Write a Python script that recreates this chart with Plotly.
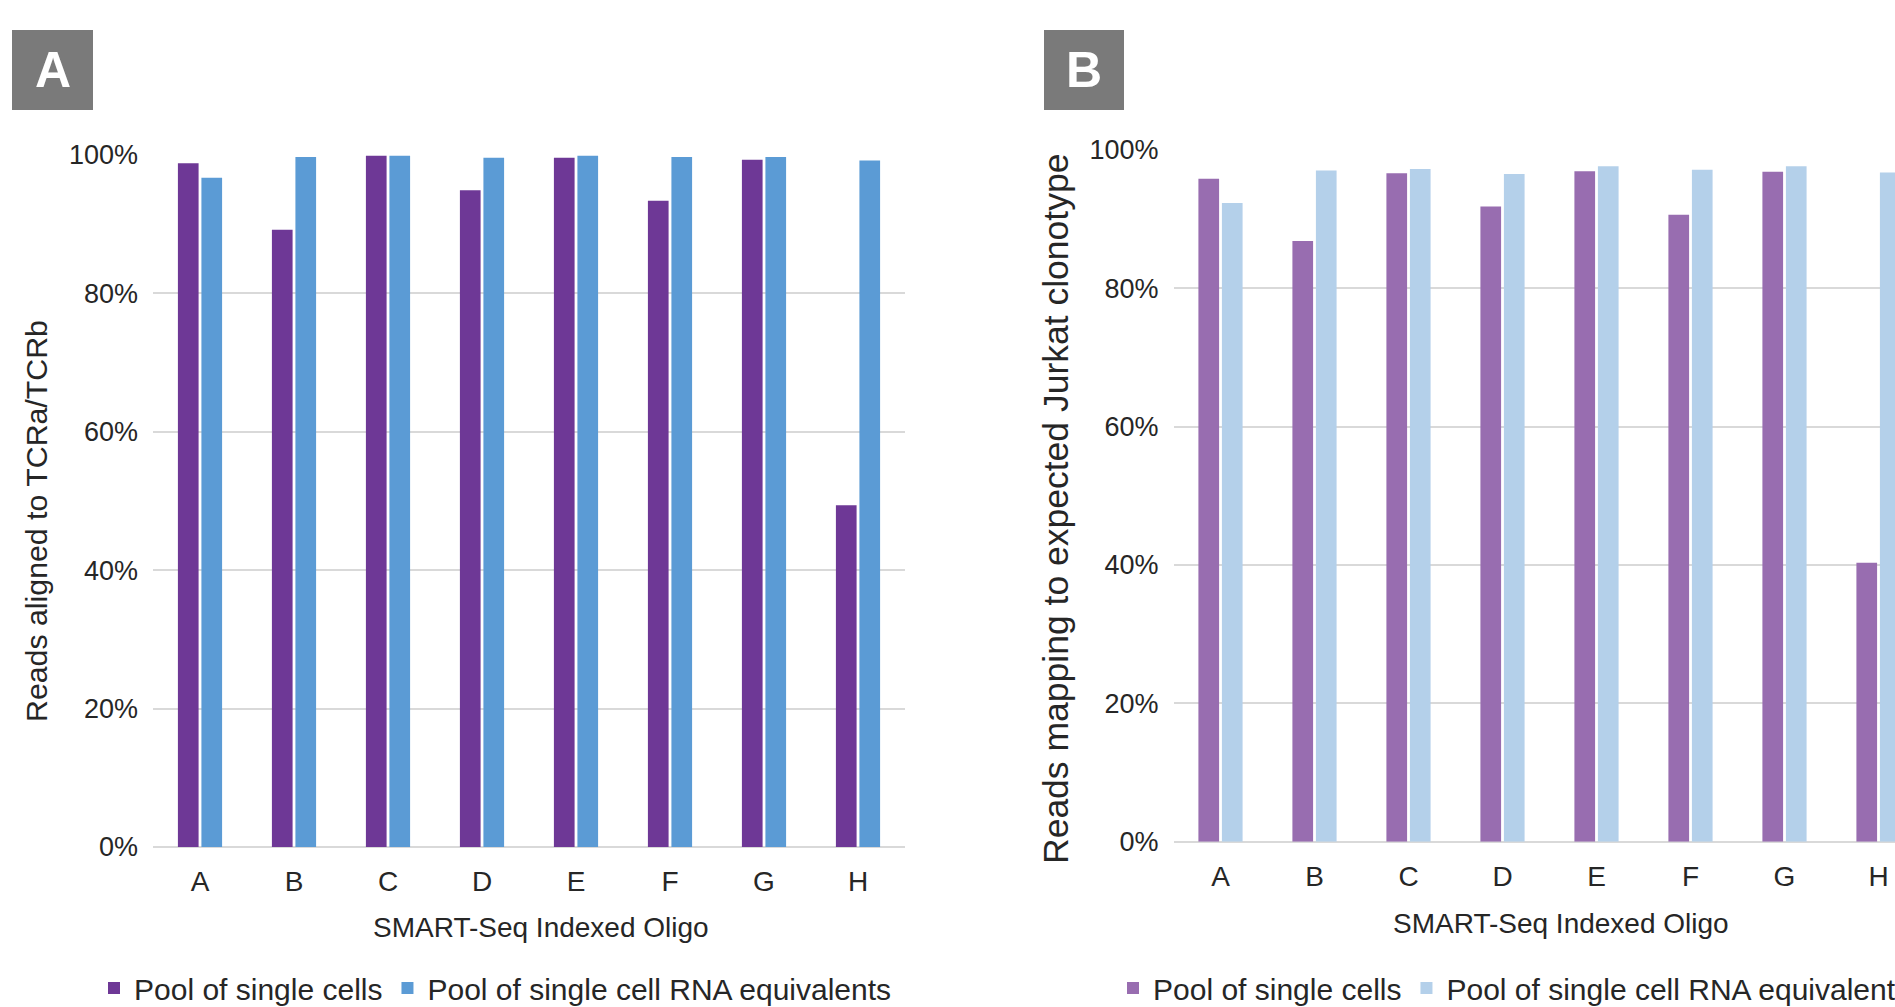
import plotly.graph_objects as go

categories = ["A", "B", "C", "D", "E", "F", "G", "H"]

# Panel A: Reads aligned to TCRa/TCRb (%)
a_single_cells = [98.8, 89.2, 99.9, 94.9, 99.6, 93.4, 99.3, 49.4]
a_rna_equiv = [96.7, 99.7, 99.9, 99.6, 99.9, 99.7, 99.7, 99.2]

# Panel B: Reads mapping to expected Jurkat clonotype (%)
b_single_cells = [95.8, 86.8, 96.6, 91.8, 96.9, 90.6, 96.8, 40.3]
b_rna_equiv = [92.3, 97.0, 97.2, 96.5, 97.6, 97.1, 97.6, 96.7]

series_names = ["Pool of single cells", "Pool of single cell RNA equivalents"]
y_ticks = [0, 20, 40, 60, 80, 100]
y_tick_labels = ["0%", "20%", "40%", "60%", "80%", "100%"]

W, H = 1895, 1007
FONT = "Liberation Sans, Arial, Helvetica, sans-serif"
TXT = "#262626"
GRID = "#D9D9D9"

fig = go.Figure()
fig.add_trace(go.Bar(x=categories, y=a_single_cells, name=series_names[0],
                     marker=dict(color="#6E3896", line=dict(width=0)),
                     xaxis="x", yaxis="y", legend="legend"))
fig.add_trace(go.Bar(x=categories, y=a_rna_equiv, name=series_names[1],
                     marker=dict(color="#5B9BD5", line=dict(width=0)),
                     xaxis="x", yaxis="y", legend="legend"))
fig.add_trace(go.Bar(x=categories, y=b_single_cells, name=series_names[0],
                     marker=dict(color="#986DB0", line=dict(width=0)),
                     xaxis="x2", yaxis="y2", legend="legend2"))
fig.add_trace(go.Bar(x=categories, y=b_rna_equiv, name=series_names[1],
                     marker=dict(color="#B4D0EA", line=dict(width=0)),
                     xaxis="x2", yaxis="y2", legend="legend2"))


def px_x(p):
    return p / W


def px_y(p):
    return 1 - p / H


xa_common = dict(showgrid=False, showline=False, zeroline=False, ticks="",
                 tickfont=dict(family=FONT, size=28, color=TXT),
                 ticklabelstandoff=15, fixedrange=True)
ya_common = dict(range=[0, 100], tickmode="array", tickvals=y_ticks,
                 ticktext=y_tick_labels,
                 showgrid=True, gridcolor=GRID, gridwidth=2,
                 zeroline=True, zerolinecolor=GRID, zerolinewidth=2,
                 showline=False, ticks="",
                 tickfont=dict(family=FONT, size=27, color=TXT),
                 ticklabelstandoff=14, fixedrange=True)

# Panel B plot extends beyond the right edge (cut off in original)
b_left, b_right_full = 1173.5, 1925.5
cat_w = (b_right_full - b_left) / 8
b_range_max = 7.5 - (b_right_full - W) / cat_w

fig.update_layout(
    width=W, height=H,
    margin=dict(l=0, r=0, t=0, b=0, pad=0, autoexpand=False),
    paper_bgcolor="white", plot_bgcolor="white",
    barmode="group", bargap=0.5, bargroupgap=0.12,
    font=dict(family=FONT, color=TXT),
    xaxis=dict(domain=[px_x(153), px_x(905)], anchor="y",
               range=[-0.5, 7.5], **xa_common),
    yaxis=dict(domain=[px_y(847), px_y(155)], anchor="x", **ya_common),
    xaxis2=dict(domain=[px_x(b_left), 1.0], anchor="y2",
                range=[-0.5, b_range_max], **xa_common),
    yaxis2=dict(domain=[px_y(841.7), px_y(149.7)], anchor="x2", **ya_common),
    legend=dict(orientation="h", x=px_x(94), xanchor="left",
                y=-7 / H, yanchor="bottom", font=dict(family=FONT, size=30, color=TXT),
                bgcolor="rgba(0,0,0,0)", itemclick=False, itemdoubleclick=False),
    legend2=dict(orientation="h", x=px_x(1113), xanchor="left",
                 y=-7 / H, yanchor="bottom", font=dict(family=FONT, size=30, color=TXT),
                 bgcolor="rgba(0,0,0,0)", itemclick=False, itemdoubleclick=False),
    showlegend=True,
)

# Panel label boxes
for (x0, x1, lab) in [(12, 93, "A"), (1044, 1124, "B")]:
    fig.add_shape(type="rect", xref="paper", yref="paper",
                  x0=px_x(x0), x1=px_x(x1), y0=px_y(110), y1=px_y(30),
                  fillcolor="#7A7A7A", line=dict(width=0), layer="above")
    fig.add_annotation(xref="paper", yref="paper",
                       x=px_x((x0 + x1) / 2), y=px_y(70),
                       xanchor="center", yanchor="middle", showarrow=False,
                       text=f"<b>{lab}</b>",
                       font=dict(family=FONT, size=50, color="white"))

# Axis titles
titles = [
    (36, 521, "Reads aligned to TCRa/TCRb", -90, 30.3),
    (1056, 509, "Reads mapping to expected Jurkat clonotype", -90, 35.5),
    (541, 927, "SMART-Seq Indexed Oligo", 0, 28),
    (1561, 923, "SMART-Seq Indexed Oligo", 0, 28),
]
for (x, y, t, ang, fs) in titles:
    fig.add_annotation(xref="paper", yref="paper", x=px_x(x), y=px_y(y),
                       xanchor="center", yanchor="middle", showarrow=False,
                       text=t, textangle=ang,
                       font=dict(family=FONT, size=fs, color=TXT))

fig.write_html(
    "out.html",
    config={"displayModeBar": False},
    post_script="document.body.style.margin='0px';document.body.style.overflow='hidden';",
)
